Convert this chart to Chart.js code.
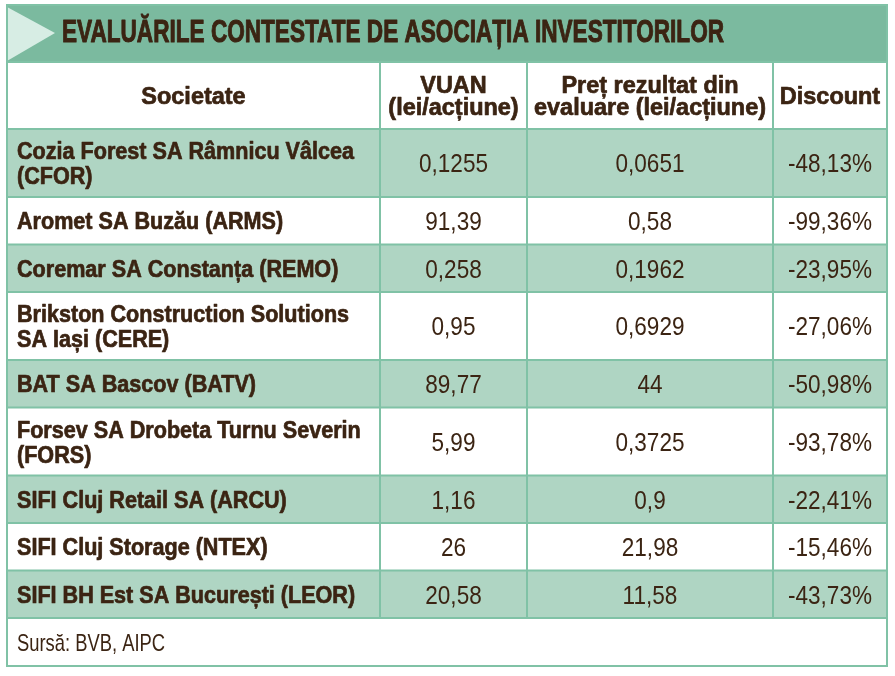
<!DOCTYPE html>
<html>
<head>
<meta charset="utf-8">
<script src="https://cdn.jsdelivr.net/npm/chart.js@4"></script>
<style>
    html, body { margin: 0; padding: 0; background: #fff; }
</style>
</head>
<body>
<canvas id="tableChart" width="895" height="676"></canvas>
<script>
const title = 'EVALUĂRILE CONTESTATE DE ASOCIAȚIA INVESTITORILOR';
const columns = [['Societate'], ['VUAN', '(lei/acțiune)'], ['Preț rezultat din', 'evaluare (lei/acțiune)'], ['Discount']];
const companies = [
    ['Cozia Forest SA Râmnicu Vâlcea', '(CFOR)'],
    ['Aromet SA Buzău (ARMS)'],
    ['Coremar SA Constanța (REMO)'],
    ['Brikston Construction Solutions', 'SA Iași (CERE)'],
    ['BAT SA Bascov (BATV)'],
    ['Forsev SA Drobeta Turnu Severin', '(FORS)'],
    ['SIFI Cluj Retail SA (ARCU)'],
    ['SIFI Cluj Storage (NTEX)'],
    ['SIFI BH Est SA București (LEOR)']
];
const vuan = [0.1255, 91.39, 0.258, 0.95, 89.77, 5.99, 1.16, 26, 20.58];
const evalPrice = [0.0651, 0.58, 0.1962, 0.6929, 44, 0.3725, 0.9, 21.98, 11.58];
const discount = [-48.13, -99.36, -23.95, -27.06, -50.98, -93.78, -22.41, -15.46, -43.73];
const source = 'Sursă: BVB, AIPC';

// layout
const colWidths = [373, 147, 246, 114];
const headH = 67, rowH = 47.5, row2H = 68;
const titleH = 57, footH = 48;
const tableW = colWidths.reduce((a, b) => a + b, 0);

const colEdges = [0];
colWidths.forEach(w => colEdges.push(colEdges[colEdges.length - 1] + w));
const rowEdges = [0, headH];
companies.forEach(c => rowEdges.push(rowEdges[rowEdges.length - 1] + (c.length > 1 ? row2H : rowH)));
const tableH = rowEdges[rowEdges.length - 1];

const INK = '#3b2413';
const LINE = '#80c2a6';
const ROW_GREEN = '#afd5c3';
const BAR_GREEN = '#7bba9f';
const FAMILY = '"Liberation Sans Narrow", "Liberation Sans", Arial, sans-serif';

// text styles, squeezed so a reference string gets the width seen in the picture
const styles = {
    title: { font: 'bold 31px ' + FAMILY, size: 31, ref: title, width: 662, stroke: 1 },
    head: { font: 'bold 24px ' + FAMILY, size: 24, ref: 'evaluare (lei/acțiune)', width: 232, stroke: 0.7 },
    name: { font: 'bold 24px ' + FAMILY, size: 24, ref: 'Cozia Forest SA Râmnicu Vâlcea', width: 337, stroke: 0.7 },
    num: { font: '26px ' + FAMILY, size: 26, ref: '-48,13%', width: 84, stroke: 0 },
    src: { font: '24px ' + FAMILY, size: 24, ref: source, width: 148, stroke: 0 }
};

function fmt(v) {
    return String(v).replace('.', ',');
}
function fmtPct(v) {
    return v.toFixed(2).replace('.', ',') + '%';
}

function drawLines(ctx, lines, x, yMid, align, st, lineH) {
    ctx.font = st.font;
    if (!st.sx) st.sx = st.width / ctx.measureText(st.ref).width;
    const cap = st.size * 0.716;
    lines.forEach((txt, i) => {
        const y = yMid + cap / 2 + (i - (lines.length - 1) / 2) * lineH;
        ctx.save();
        ctx.translate(x, y);
        ctx.scale(st.sx, 1);
        ctx.textAlign = align;
        ctx.textBaseline = 'alphabetic';
        ctx.fillStyle = INK;
        ctx.fillText(txt, 0, 0);
        if (st.stroke) {
            ctx.strokeStyle = INK;
            ctx.lineWidth = st.stroke;
            ctx.lineJoin = 'round';
            ctx.strokeText(txt, 0, 0);
        }
        ctx.restore();
    });
}

const tablePlugin = {
    id: 'tablePlugin',
    afterDraw(chart) {
        const ctx = chart.ctx;
        const xs = chart.scales.x, ys = chart.scales.y;
        const X = v => xs.getPixelForValue(v);
        const Y = v => ys.getPixelForValue(v);
        const left = X(0), right = X(tableW), top = Y(0), bottom = Y(tableH);

        ctx.save();
        // title bar
        ctx.fillStyle = BAR_GREEN;
        ctx.fillRect(left, top - titleH, right - left, titleH);
        ctx.fillStyle = '#d7ede4';
        ctx.beginPath();
        ctx.moveTo(left, top - titleH + 2);
        ctx.lineTo(left + 48, top - titleH + 28);
        ctx.lineTo(left, top - 1);
        ctx.closePath();
        ctx.fill();
        drawLines(ctx, [title], left + 55, top - titleH + 26, 'left', styles.title, 0);

        // row fills
        companies.forEach((c, i) => {
            if (i % 2 === 0) {
                ctx.fillStyle = ROW_GREEN;
                ctx.fillRect(left, Y(rowEdges[i + 1]), right - left, Y(rowEdges[i + 2]) - Y(rowEdges[i + 1]));
            }
        });

        // grid
        ctx.strokeStyle = LINE;
        ctx.lineWidth = 2;
        ctx.beginPath();
        rowEdges.forEach(e => { ctx.moveTo(left, Y(e)); ctx.lineTo(right, Y(e)); });
        colEdges.slice(1, -1).forEach(e => { ctx.moveTo(X(e), top); ctx.lineTo(X(e), bottom); });
        ctx.stroke();
        ctx.strokeRect(left, top - titleH, right - left, bottom + footH - (top - titleH));

        // header
        columns.forEach((h, j) => {
            const cx = (X(colEdges[j]) + X(colEdges[j + 1])) / 2;
            drawLines(ctx, h, cx, (Y(0) + Y(headH)) / 2, 'center', styles.head, 22);
        });

        // body
        companies.forEach((c, i) => {
            const mid = (Y(rowEdges[i + 1]) + Y(rowEdges[i + 2])) / 2;
            drawLines(ctx, c, X(colEdges[0]) + 10, mid, 'left', styles.name, 25);
            drawLines(ctx, [fmt(vuan[i])], (X(colEdges[1]) + X(colEdges[2])) / 2, mid, 'center', styles.num, 0);
            drawLines(ctx, [fmt(evalPrice[i])], (X(colEdges[2]) + X(colEdges[3])) / 2, mid, 'center', styles.num, 0);
            drawLines(ctx, [fmtPct(discount[i])], X(colEdges[4]) - 15, mid, 'right', styles.num, 0);
        });

        // footer
        drawLines(ctx, [source], left + 10, bottom + footH / 2, 'left', styles.src, 0);
        ctx.restore();
    }
};

new Chart(document.getElementById('tableChart'), {
    type: 'scatter',
    data: { datasets: [] },
    options: {
        responsive: false,
        animation: false,
        layout: { padding: { left: 7, top: 62, right: 8, bottom: 58 } },
        plugins: { legend: { display: false }, tooltip: { enabled: false } },
        scales: {
            x: { type: 'linear', min: 0, max: tableW, display: false },
            y: { type: 'linear', min: 0, max: tableH, reverse: true, display: false }
        }
    },
    plugins: [tablePlugin]
});
</script>
</body>
</html>
